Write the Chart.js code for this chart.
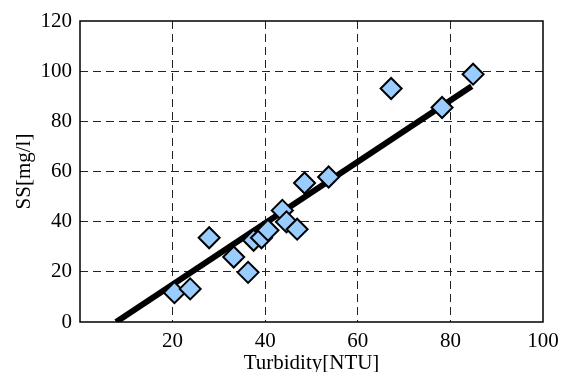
<!DOCTYPE html>
<html>
<head>
<meta charset="utf-8">
<script src="https://cdn.jsdelivr.net/npm/chart.js@4/dist/chart.umd.min.js"></script>
<style>
  html, body { margin: 0; padding: 0; background: #fff; }
  #wrap { width: 561px; height: 372px; }
</style>
</head>
<body>
<div id="wrap"><canvas id="c"></canvas></div>
<script>
// measured samples: turbidity vs suspended solids
const turbidity = [20.4, 23.8, 27.9, 33.2, 36.3, 37.5, 39.2, 40.6, 43.7, 44.6, 46.9, 48.5, 53.7, 67.2, 78.2, 84.9];
const ssValues  = [11.7, 13.2, 33.6, 25.9, 19.8, 32.6, 33.6, 36.6, 44.5, 39.9, 37.0, 55.4, 57.8, 93.1, 85.5, 98.8];

// fitted line end points
const fitX = [7.8, 84.6];
const fitY = [0, 94];

const xTicks = [0, 20, 40, 60, 80, 100];
const yTicks = [0, 20, 40, 60, 80, 100, 120];

const FONT = "Liberation Serif";

// draw the solid frame round the plot area
const frame = {
  id: "frame",
  afterDraw(chart) {
    const a = chart.chartArea, ctx = chart.ctx;
    ctx.save();
    ctx.strokeStyle = "#000";
    ctx.lineWidth = 1.5;
    ctx.strokeRect(a.left, a.top, a.right - a.left, a.bottom - a.top);
    ctx.restore();
  }
};

const grid = {
  color: (c) => (c.tick && (c.tick.value === 0 || c.tick.value === 100 && c.scale.axis === "x" || c.tick.value === 120)) ? "rgba(0,0,0,0)" : "#222",
  lineWidth: 1,
  drawTicks: false
};

function draw() {
  new Chart(document.getElementById("c"), {
    type: "scatter",
    data: {
      datasets: [
        {
          label: "fit",
          type: "line",
          data: fitX.map((x, i) => ({ x, y: fitY[i] })),
          borderColor: "#000",
          borderWidth: 6,
          pointRadius: 0,
          fill: false,
          order: 2
        },
        {
          label: "SS",
          data: turbidity.map((x, i) => ({ x, y: ssValues[i] })),
          pointStyle: "rectRot",
          pointRadius: 10.5,
          pointBackgroundColor: "#99ccff",
          pointBorderColor: "#000",
          pointBorderWidth: 2,
          order: 1
        }
      ]
    },
    options: {
      responsive: true,
      maintainAspectRatio: false,
      animation: false,
      layout: { padding: { top: 21, right: 18, left: 0, bottom: 0 } },
      plugins: {
        legend: { display: false },
        tooltip: { enabled: false }
      },
      scales: {
        x: {
          type: "linear",
          min: 0,
          max: 100,
          afterBuildTicks: (s) => { s.ticks = xTicks.map(v => ({ value: v })); },
          afterFit: (s) => { s.height = 50; s.paddingLeft = 0; s.paddingRight = 0; },
          border: { display: false, dash: [8, 5] },
          grid: grid,
          ticks: {
            padding: 7,
            color: "#000",
            font: { family: FONT, size: 21 },
            callback: (v) => v === 0 ? "" : v
          },
          title: {
            display: true,
            text: "Turbidity[NTU]",
            color: "#000",
            font: { family: FONT, size: 21, lineHeight: 0.85 },
            padding: { top: 0, bottom: 0 }
          }
        },
        y: {
          type: "linear",
          min: 0,
          max: 120,
          afterBuildTicks: (s) => { s.ticks = yTicks.map(v => ({ value: v })); },
          afterFit: (s) => { s.width = 80; s.paddingTop = 0; s.paddingBottom = 0; },
          border: { display: false, dash: [8, 5] },
          grid: grid,
          ticks: {
            padding: 8,
            color: "#000",
            font: { family: FONT, size: 21 }
          },
          title: {
            display: true,
            text: "SS[mg/l]",
            color: "#000",
            font: { family: FONT, size: 21, lineHeight: 1 },
            padding: { top: 14, bottom: 0 }
          }
        }
      }
    },
    plugins: [frame]
  });
}

document.fonts.load("21px 'Liberation Serif'").then(draw, draw);
</script>
</body>
</html>
